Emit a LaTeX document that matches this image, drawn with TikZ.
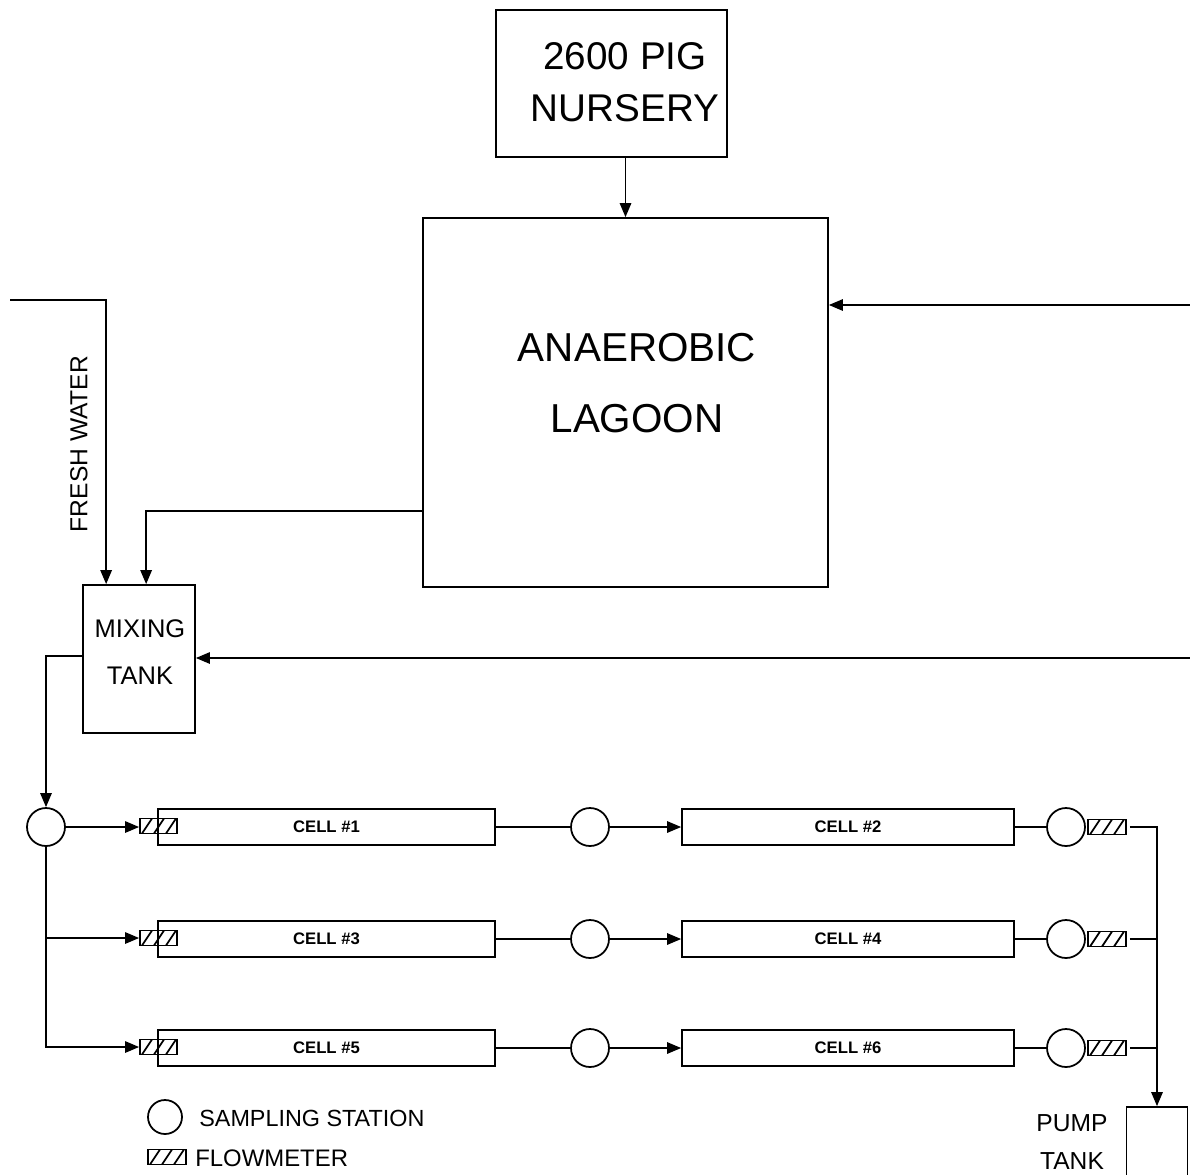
\documentclass[tikz,border=0pt]{standalone}
\usepackage{fontspec}
\setmainfont{Liberation Sans}
\usetikzlibrary{arrows.meta,calc}
\begin{document}
\begin{tikzpicture}[x=0.02cm,y=-0.02cm,
  box/.style={draw, line width=1pt, inner sep=0pt, rectangle},
  cellbox/.style={box, minimum height=0.72cm, font=\fontsize{9.5}{11}\selectfont\bfseries},
  conn/.style={line width=0.95pt},
  arr/.style={-{Triangle[length=8pt,width=6.5pt]}},
  samp/.style={draw, line width=1pt, circle, minimum size=0.76cm, inner sep=0pt},
  fm/.style={draw, line width=1pt, inner sep=0pt, minimum width=0.74cm, minimum height=0.3cm,
    path picture={\foreach \i in {0,1,2}{\draw[line width=1pt] ($(path picture bounding box.south west)+(2+\i*12,0)$) -- ++(10,-15);}}},
  lbl/.style={align=center, inner sep=0pt}
]
\clip (0,0) rectangle (1190,1174);
\fill[white] (0,0) rectangle (1190,1174);

% main boxes
\node[box, minimum width=4.62cm, minimum height=2.94cm] (nursery) at (611.5,83.5) {};
\node[lbl, font=\fontsize{22}{29.5}\selectfont] (nurserytxt) at (625,82) {2600 PIG\\NURSERY};
\node[box, minimum width=8.1cm, minimum height=7.38cm] (lagoon) at (625.5,402.5) {};
\node[lbl, font=\fontsize{23}{40}\selectfont] (lagoontxt) at (637,383) {ANAEROBIC\\LAGOON};
\node[box, minimum width=2.24cm, minimum height=2.96cm] (mix) at (139,659) {};
\node[lbl, font=\fontsize{14.5}{27}\selectfont] (mixtxt) at (140,652) {MIXING\\TANK};
\node[lbl, font=\fontsize{14}{16}\selectfont, rotate=90] (fwtxt) at (79,444) {FRESH WATER};

% cells
\node[cellbox, minimum width=6.74cm] (cell1) at (326.5,827) {CELL \#1};
\node[cellbox, minimum width=6.64cm] (cell2) at (848,827) {CELL \#2};
\node[cellbox, minimum width=6.74cm] (cell3) at (326.5,939) {CELL \#3};
\node[cellbox, minimum width=6.64cm] (cell4) at (848,939) {CELL \#4};
\node[cellbox, minimum width=6.74cm] (cell5) at (326.5,1048) {CELL \#5};
\node[cellbox, minimum width=6.64cm] (cell6) at (848,1048) {CELL \#6};

% sampling stations
\node[samp] (s0) at (46,827) {};
\node[samp] (s1) at (590,827) {};
\node[samp] (s2) at (590,939) {};
\node[samp] (s3) at (590,1048) {};
\node[samp] (r1) at (1066,827) {};
\node[samp] (r2) at (1066,939) {};
\node[samp] (r3) at (1066,1048) {};

% flowmeters
\node[fm] (f1) at (158.5,826) {};
\node[fm] (f3) at (158.5,938) {};
\node[fm] (f5) at (158.5,1047) {};
\node[fm, minimum width=0.76cm] (g1) at (1107,827) {};
\node[fm, minimum width=0.76cm] (g2) at (1107,939) {};
\node[fm, minimum width=0.76cm] (g3) at (1107,1048) {};

% pump tank
\node[box, minimum width=1.22cm, minimum height=1.86cm] (pump) at (1157,1153.5) {};
\node[lbl, font=\fontsize{14}{21.5}\selectfont] (pumptxt) at (1072,1142) {PUMP\\TANK};

% connectors
\coordinate (inL) at (1190,305);
\coordinate (inM) at (1190,658);
\coordinate (fw) at (10,300);
\draw[conn,arr] (lagoon.north |- nursery.south) -- (lagoon.north);
\draw[conn,arr] (inL) -- (inL -| lagoon.east);
\draw[conn,arr] (fw) -| ($(mix.north west)+(24,0)$);
\draw[conn,arr] ($(lagoon.south west)+(0,-77)$) -| ($(mix.north west)+(64,0)$);
\draw[conn,arr] (inM) -- (inM -| mix.east);
\draw[conn,arr] ($(mix.north west)+(0,72)$) -| (s0.north);
\draw[conn,arr] (s0.east) -- (s0.east -| f1.west);
\draw[conn,arr] (s0.south) |- (f5.west);
\draw[conn,arr] (s0.south |- f3.west) -- (f3.west);

\draw[conn] (cell1.east) -- (s1.west);
\draw[conn,arr] (s1.east) -- (cell2.west);
\draw[conn] (cell3.east) -- (s2.west);
\draw[conn,arr] (s2.east) -- (cell4.west);
\draw[conn] (cell5.east) -- (s3.west);
\draw[conn,arr] (s3.east) -- (cell6.west);

\draw[conn] (cell2.east) -- (r1.west);
\draw[conn] (cell4.east) -- (r2.west);
\draw[conn] (cell6.east) -- (r3.west);

\draw[conn,arr] ([xshift=0.06cm]g1.east) -| (pump.north);
\draw[conn] ([xshift=0.06cm]g2.east) -- (g2.east -| pump.north);
\draw[conn] ([xshift=0.06cm]g3.east) -- (g3.east -| pump.north);

% legend
\node[samp, minimum size=0.68cm] (ls) at (165,1117) {};
\node[anchor=west, inner sep=0pt, font=\fontsize{13.3}{16}\selectfont] (lstxt) at (199,1118) {SAMPLING STATION};
\node[fm, minimum width=0.76cm] (lf) at (167,1157) {};
\node[anchor=west, inner sep=0pt, font=\fontsize{13.6}{16}\selectfont] (lftxt) at (195,1158) {FLOWMETER};
\end{tikzpicture}
\end{document}
